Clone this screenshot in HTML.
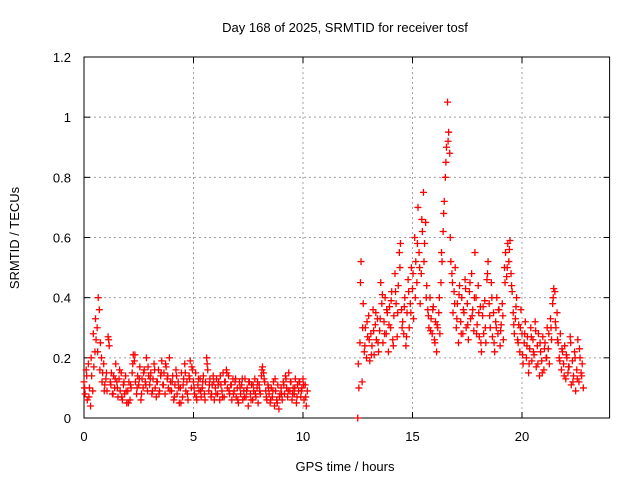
<!DOCTYPE html>
<html><head><meta charset="utf-8"><style>
body{margin:0;background:#fff;}
svg{display:block;font-family:"Liberation Sans",sans-serif;}
</style></head><body>
<svg id="chart" width="640" height="480" viewBox="0 0 640 480">
<rect width="640" height="480" fill="#fff"/>
<g id="grid"></g>
<g id="axes"></g>
<g id="points"></g>
<text x="345" y="32" font-size="13" text-anchor="middle">Day 168 of 2025, SRMTID for receiver tosf</text>
<text x="345" y="471" font-size="13" text-anchor="middle">GPS time / hours</text>
<text transform="translate(19,238) rotate(-90)" font-size="13" text-anchor="middle">SRMTID / TECUs</text>
</svg>
<script>
const xTicks=[0,5,10,15,20];
const yTicks=[0,0.2,0.4,0.6,0.8,1,1.2];
const yTickLabels=["0","0.2","0.4","0.6","0.8","1","1.2"];
const seg1Start=0, seg1Step=0.05;
const seg1Values=[0.12,0.08,0.16,0.06,0.18,0.10,0.04,0.14,0.09,0.17,0.22,0.26,0.30,0.40,0.36,0.25,0.20,0.15,0.18,0.11,
0.13,0.09,0.27,0.24,0.12,0.15,0.08,0.14,0.10,0.18,0.12,0.07,0.13,0.09,0.15,0.06,0.11,0.08,0.14,0.05,
0.09,0.12,0.06,0.10,0.15,0.21,0.19,0.12,0.08,0.14,0.11,0.17,0.06,0.13,0.10,0.16,0.12,0.20,0.09,0.14,
0.11,0.15,0.08,0.13,0.18,0.10,0.07,0.12,0.16,0.09,0.14,0.19,0.11,0.15,0.08,0.17,0.13,0.10,0.20,0.12,
0.09,0.14,0.06,0.11,0.16,0.08,0.12,0.05,0.10,0.15,0.07,0.13,0.18,0.09,0.12,0.06,0.14,0.19,0.10,0.16,
0.12,0.08,0.15,0.06,0.11,0.09,0.13,0.07,0.10,0.14,0.08,0.12,0.20,0.16,0.09,0.13,0.07,0.11,0.14,0.06,
0.10,0.13,0.08,0.12,0.06,0.11,0.09,0.15,0.07,0.12,0.16,0.10,0.14,0.08,0.11,0.06,0.13,0.09,0.12,0.07,
0.10,0.05,0.12,0.08,0.11,0.06,0.09,0.13,0.07,0.10,0.04,0.12,0.08,0.11,0.06,0.09,0.13,0.07,0.10,0.05,
0.11,0.08,0.14,0.17,0.15,0.12,0.09,0.06,0.11,0.08,0.05,0.10,0.07,0.12,0.04,0.09,0.06,0.11,0.03,0.08,
0.10,0.06,0.12,0.08,0.14,0.10,0.07,0.15,0.09,0.12,0.06,0.10,0.08,0.13,0.05,0.11,0.09,0.12,0.07,0.10,
0.13,0.06,0.11,0.04,0.09];
const seg1BStart=0.025, seg1BStep=0.1;
const seg1BValues=[0.10,0.14,0.07,0.20,0.28,0.33,0.22,0.16,0.12,0.09,
0.15,0.26,0.11,0.08,0.13,0.10,0.16,0.07,0.12,0.09,
0.05,0.11,0.18,0.21,0.10,0.13,0.08,0.15,0.11,0.17,
0.13,0.09,0.16,0.12,0.08,0.15,0.11,0.18,0.14,0.09,
0.12,0.07,0.14,0.10,0.05,0.11,0.15,0.08,0.13,0.17,
0.10,0.07,0.13,0.09,0.12,0.06,0.18,0.11,0.08,0.12,
0.08,0.11,0.14,0.07,0.12,0.15,0.09,0.11,0.08,0.13,
0.06,0.10,0.13,0.07,0.09,0.12,0.06,0.11,0.08,0.12,
0.09,0.16,0.13,0.07,0.10,0.06,0.09,0.13,0.05,0.07,
0.08,0.11,0.13,0.09,0.12,0.08,0.10,0.07,0.12,0.09,
0.11,0.07];
const seg2Start=12.5, seg2Step=0.05;
const seg2Values=[0.00,0.10,0.25,0.52,0.12,0.38,0.22,0.30,0.20,0.27,0.34,0.19,0.28,0.24,0.36,0.21,0.31,0.26,0.33,0.22,
0.29,0.45,0.38,0.25,0.32,0.40,0.28,0.35,0.22,0.37,0.30,0.42,0.26,0.34,0.48,0.38,0.27,0.44,0.55,0.58,
0.36,0.32,0.28,0.40,0.24,0.35,0.46,0.30,0.38,0.50,0.43,0.33,0.60,0.52,0.45,0.70,0.55,0.38,0.48,0.62,
0.75,0.58,0.65,0.44,0.36,0.30,0.40,0.33,0.28,0.37,0.26,0.32,0.22,0.30,0.35,0.28,0.45,0.52,0.62,0.72,
0.80,0.90,1.05,0.95,0.88,0.52,0.48,0.35,0.42,0.50,0.30,0.38,0.25,0.44,0.32,0.40,0.28,0.35,0.46,0.30,
0.38,0.26,0.42,0.33,0.48,0.36,0.29,0.55,0.40,0.31,0.44,0.27,0.37,0.22,0.34,0.28,0.39,0.25,0.46,0.52,
0.38,0.30,0.45,0.27,0.35,0.22,0.32,0.40,0.28,0.36,0.24,0.31,0.38,0.26,0.50,0.55,0.47,0.58,0.52,0.59,
0.48,0.42,0.35,0.28,0.33,0.40,0.26,0.31,0.22,0.36,0.28,0.18,0.25,0.32,0.20,0.27,0.15,0.23,0.30,0.19,
0.26,0.21,0.32,0.17,0.24,0.28,0.14,0.22,0.19,0.27,0.16,0.25,0.20,0.30,0.23,0.18,0.33,0.26,0.38,0.43,
0.42,0.30,0.35,0.25,0.20,0.28,0.16,0.22,0.18,0.24,0.13,0.20,0.15,0.17,0.27,0.11,0.19,0.14,0.22,0.09,
0.16,0.26,0.12,0.20,0.15,0.18,0.10];
const seg2BStart=12.525, seg2BStep=0.1;
const seg2BValues=[0.18,0.45,0.30,0.24,0.32,0.26,0.21,0.29,0.35,0.25,
0.33,0.41,0.28,0.36,0.31,0.39,0.24,0.42,0.35,0.50,
0.30,0.37,0.27,0.42,0.35,0.48,0.40,0.58,0.50,0.66,
0.52,0.40,0.34,0.29,0.36,0.25,0.31,0.40,0.55,0.68,
0.85,0.92,0.60,0.45,0.38,0.33,0.41,0.28,0.36,0.43,
0.31,0.45,0.34,0.40,0.28,0.35,0.25,0.37,0.30,0.48,
0.34,0.40,0.25,0.30,0.36,0.29,0.34,0.45,0.50,0.56,
0.44,0.31,0.37,0.25,0.30,0.21,0.28,0.24,0.18,0.27,
0.22,0.29,0.18,0.25,0.15,0.23,0.20,0.28,0.30,0.40,
0.32,0.26,0.19,0.23,0.14,0.21,0.17,0.25,0.12,0.20,
0.13,0.23,0.14];

const L=84,R=609.6,T=57,B=418,XMAX=24,YMAX=1.2;
const NS="http://www.w3.org/2000/svg";
function xs(v){return L+(R-L)*v/XMAX;}
function ys(v){return B-(B-T)*v/YMAX;}
function mk(tag,attrs,parent){const e=document.createElementNS(NS,tag);for(const k in attrs)e.setAttribute(k,attrs[k]);parent.appendChild(e);return e;}
const grid=document.getElementById('grid'),axes=document.getElementById('axes'),pts=document.getElementById('points');
xTicks.forEach(t=>{
  const x=xs(t);
  if(t>0){const g=mk('line',{x1:x,x2:x,y1:T,y2:B,stroke:'#a0a0a0','stroke-dasharray':'2,3'},grid);
  
  }
  const tk=mk('line',{x1:x,x2:x,y1:B,y2:B-6,stroke:'#000'},axes);
  
  
  const tk2=mk('line',{x1:x,x2:x,y1:T,y2:T+6,stroke:'#000'},axes);
  
  
  const lb=mk('text',{x:x,y:B+23,'font-size':13,'text-anchor':'middle'},axes);lb.textContent=String(t);
  
  
});
yTicks.forEach((t,i)=>{
  const y=ys(t);
  if(t>0&&t<YMAX){const g=mk('line',{x1:L,x2:R,y1:y,y2:y,stroke:'#a0a0a0','stroke-dasharray':'2,3'},grid);
  
  }
  const tk=mk('line',{x1:L,x2:L+6,y1:y,y2:y,stroke:'#000'},axes);
  
  
  const tk2=mk('line',{x1:R,x2:R-6,y1:y,y2:y,stroke:'#000'},axes);
  
  
  const lb=mk('text',{x:L-13,y:y+5,'font-size':13,'text-anchor':'end'},axes);lb.textContent=yTickLabels[i];
  
  
});
const frame=mk('rect',{x:L,y:T,width:R-L,height:B-T,fill:'none',stroke:'#000'},axes);


function plus(x,y,c){
  const p=mk('path',{d:`M${x-3.5},${y}H${x+3.5}M${x},${y-3.5}V${y+3.5}`,stroke:c,'stroke-width':1.3,fill:'none'},pts);
  
  
}
function drawSeg(start,step,vals){
  vals.forEach((v,i)=>{plus(xs(start+i*step),ys(v),'#f00');});
}
drawSeg(seg1Start,seg1Step,seg1Values);
drawSeg(seg1BStart,seg1BStep,seg1BValues);
drawSeg(seg2Start,seg2Step,seg2Values);
drawSeg(seg2BStart,seg2BStep,seg2BValues);
</script>
</body></html>
